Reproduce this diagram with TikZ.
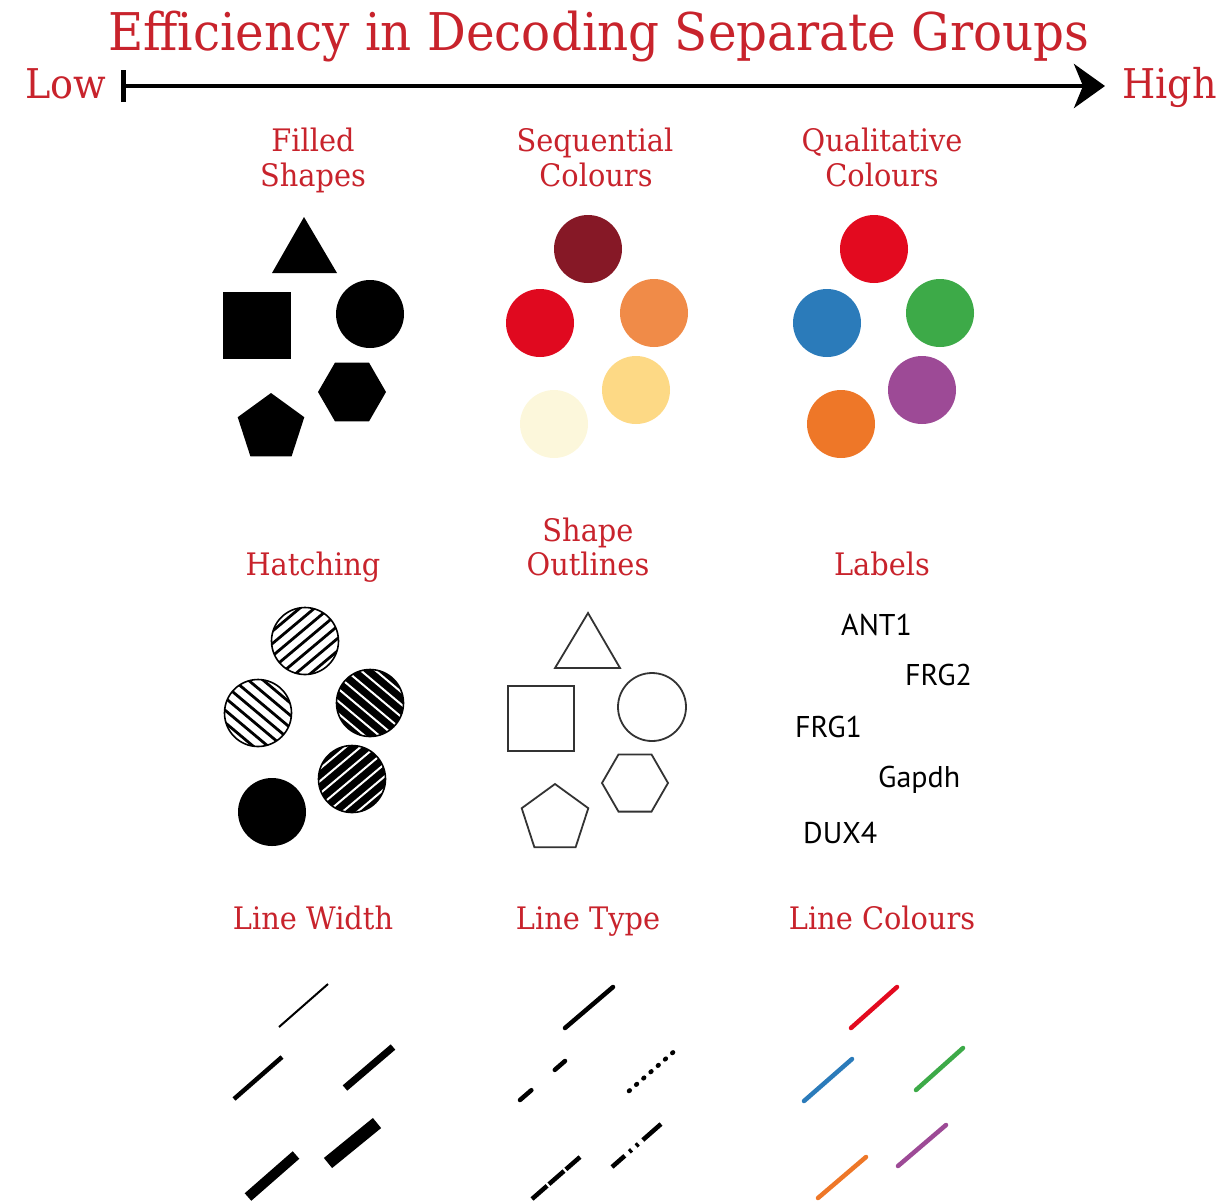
\documentclass[tikz,border=0pt]{standalone}
\usepackage{fontspec}
\setmainfont{DejaVu Serif}[FakeStretch=0.93]
\newfontfamily\labelfont{PT Sans}
\usetikzlibrary{arrows.meta}
\definecolor{hdrred}{HTML}{C8232C}
\definecolor{sqA}{HTML}{861826}
\definecolor{sqB}{HTML}{E0091F}
\definecolor{sqC}{HTML}{F08B48}
\definecolor{sqD}{HTML}{FDD985}
\definecolor{sqE}{HTML}{FCF7DB}
\definecolor{qlR}{HTML}{E30A1F}
\definecolor{qlB}{HTML}{2B7BBA}
\definecolor{qlG}{HTML}{3DAA48}
\definecolor{qlP}{HTML}{9D4A96}
\definecolor{qlO}{HTML}{EE7728}
\definecolor{outl}{HTML}{333333}
\tikzset{
  hdr/.style={text=hdrred, font=\fontsize{31}{34}\selectfont, anchor=base, inner sep=0pt},
  dot/.style={circle, inner sep=0pt, minimum size=68pt},
  glabel/.style={font=\labelfont\fontsize{30}{32}\selectfont, anchor=base west, inner sep=0pt},
}
\newcommand\hatchdisc[6]{%
  \begin{scope}
    \clip (#1,#2) circle (33.5pt);
    \fill[#3] (#1,#2) circle (33.5pt);
    \begin{scope}[shift={(#1,#2)}, rotate=#5]
      \foreach \d in {-47.5,-38,...,48} \draw[#4, line width=#6] (-50,\d) -- (50,\d);
    \end{scope}
  \end{scope}
  \draw[line width=1.6pt] (#1,#2) circle (33.5pt);}
\begin{document}
\begin{tikzpicture}[x=1pt,y=-1pt]
\useasboundingbox (0,0) rectangle (1223,1203);
% title and axis
\node[text=hdrred, font=\fontsize{52}{56}\selectfont, anchor=base, inner sep=0pt] (title) at (599,50) {Efficiency in Decoding Separate Groups};
\node[text=hdrred, font=\fontsize{41}{44}\selectfont, anchor=base west, inner sep=0pt] (low) at (25,98) {Low};
\node[text=hdrred, font=\fontsize{41}{44}\selectfont, anchor=base west, inner sep=0pt] (high) at (1122,98) {High};
\coordinate (axs) at (121,86);
\coordinate (axe) at (1105,86);
\draw[line width=4.5pt, {Bar[width=32pt,line width=5pt]}-{Stealth[length=31pt,width=44pt,inset=9pt]}] (axs) -- (axe);
% headers
\node[hdr] (h1a) at (313,151) {Filled};
\node[hdr] (h1b) at (313,186) {Shapes};
\node[hdr] (h2a) at (595,151) {Sequential};
\node[hdr] (h2b) at (596,186) {Colours};
\node[hdr] (h3a) at (882,151) {Qualitative};
\node[hdr] (h3b) at (882,186) {Colours};
\node[hdr] (h4) at (313,575) {Hatching};
\node[hdr] (h5a) at (588,541) {Shape};
\node[hdr] (h5b) at (588,575) {Outlines};
\node[hdr] (h6) at (882,575) {Labels};
\node[hdr] (h7) at (313,929) {Line Width};
\node[hdr] (h8) at (588,929) {Line Type};
\node[hdr] (h9) at (882,929) {Line Colours};
% filled shapes
\fill (304,217) -- (337,273) -- (272,273) -- cycle;
\fill (223,292) rectangle (291,359);
\node[dot, fill=black] (fcirc) at (370,314) {};
\fill (386,392) -- (369,421.4) -- (335,421.4) -- (318,392) -- (335,362.6) -- (369,362.6) -- cycle;
\fill (271,393) -- (304.3,417.2) -- (291.6,456.3) -- (250.4,456.3) -- (237.7,417.2) -- cycle;
% sequential colours
\node[dot, fill=sqA] (sA) at (588,249) {};
\node[dot, fill=sqB] (sB) at (540,323) {};
\node[dot, fill=sqC] (sC) at (654,313) {};
\node[dot, fill=sqD] (sD) at (636,390) {};
\node[dot, fill=sqE] (sE) at (554,424) {};
% qualitative colours
\node[dot, fill=qlR] (qA) at (874,249) {};
\node[dot, fill=qlB] (qB) at (827,323) {};
\node[dot, fill=qlG] (qC) at (940,313) {};
\node[dot, fill=qlP] (qD) at (922,390) {};
\node[dot, fill=qlO] (qE) at (841,424) {};
% hatching
\hatchdisc{305}{641}{white}{black}{40}{2.8pt}
\hatchdisc{258}{713}{white}{black}{-40}{2.8pt}
\hatchdisc{370}{703}{black}{white}{-40}{2pt}
\hatchdisc{352}{779}{black}{white}{40}{2pt}
\node[dot, fill=black] (hE) at (272,812) {};
% shape outlines
\begin{scope}[draw=outl, line width=1.8pt, line join=miter]
\draw (588,613) -- (620,668) -- (555,668) -- cycle;
\draw (508,686) rectangle (574,751);
\draw (652,707) circle (34pt);
\draw (668,783) -- (651.5,811.6) -- (618.5,811.6) -- (602,783) -- (618.5,754.4) -- (651.5,754.4) -- cycle;
\draw (555,784) -- (588.3,808.2) -- (575.6,847.3) -- (534.4,847.3) -- (521.7,808.2) -- cycle;
\end{scope}
% labels
\node[glabel] (lANT) at (841,635) {ANT1};
\node[glabel] (lFRG2) at (905,685) {FRG2};
\node[glabel] (lFRG1) at (795,737) {FRG1};
\node[glabel] (lGap) at (878,787) {Gapdh};
\node[glabel] (lDUX) at (803,843) {DUX4};
% line width
\draw[line width=2pt] (279,1027) -- (328,984);
\draw[line width=4.5pt] (234,1099) -- (282,1057);
\draw[line width=7pt] (345,1088) -- (393,1047);
\draw[line width=10pt] (248,1197) -- (296,1155);
\draw[line width=13pt] (328,1163) -- (377,1123);
% line type
\begin{scope}[line width=4.5pt]
\draw[line cap=round] (565,1028) -- (613,987);
\draw[line cap=round, dash pattern=on 15pt off 31pt] (520,1100) -- (565,1061);
\draw[line cap=round, dash pattern=on 1pt off 8.6pt] (629,1091) -- (678,1048);
\draw[dash pattern=on 20pt off 2.5pt] (532,1199) -- (580,1157);
\draw[dash pattern=on 17pt off 6pt on 3pt off 6pt on 3pt off 6pt on 25pt] (612,1167) -- (661,1124);
\end{scope}
% line colours
\begin{scope}[line width=4.5pt, line cap=round]
\draw[qlR] (851,1028) -- (897,987);
\draw[qlB] (804,1101) -- (852,1059);
\draw[qlG] (916,1090) -- (963,1048);
\draw[qlO] (818,1198) -- (866,1157);
\draw[qlP] (898,1166) -- (946,1125);
\end{scope}
\end{tikzpicture}
\end{document}
